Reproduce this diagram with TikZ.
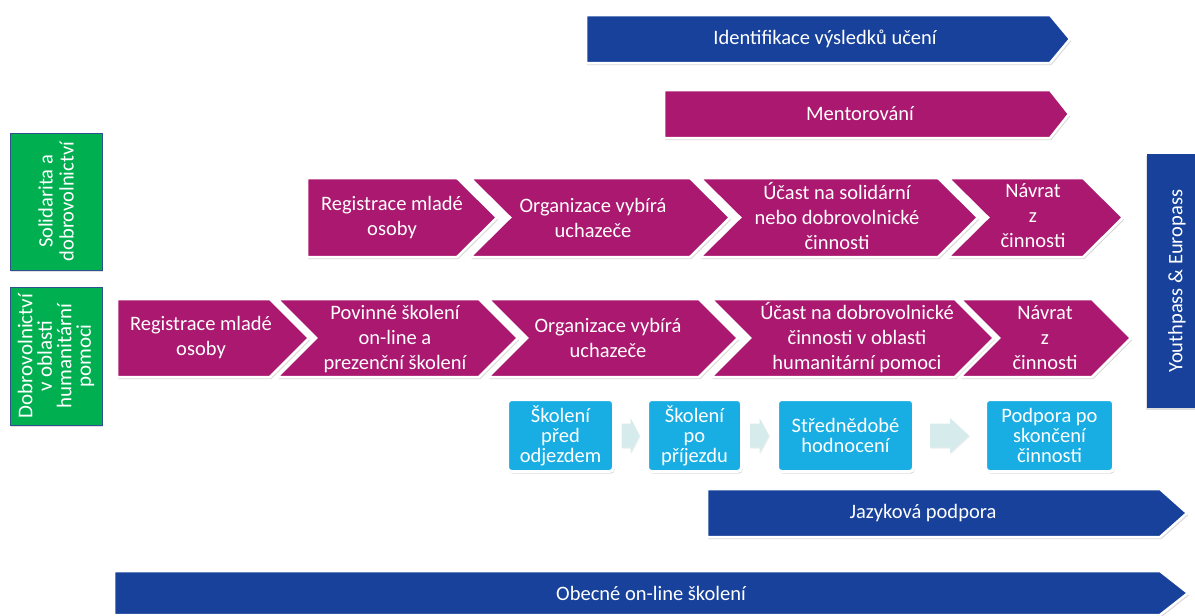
\documentclass[tikz,border=0pt]{standalone}
\usepackage{fontspec}
\setmainfont{Carlito}
\usetikzlibrary{shadows,calc}
\definecolor{cBlue}{HTML}{17419A}
\definecolor{cMag}{HTML}{AA1870}
\definecolor{cGreen}{HTML}{00B050}
\definecolor{cSky}{HTML}{19AEE3}
\definecolor{cPale}{HTML}{D6EBEB}
\definecolor{cEdge}{HTML}{2F528F}
\tikzset{
  shp/.style={draw=white, line width=2.5pt, line join=miter,
    drop shadow={shadow xshift=1.2pt, shadow yshift=-2.2pt, opacity=0.3}},
  txt/.style={text=white, align=center, inner sep=0pt,
    font=\fontsize{20.5}{25}\selectfont},
  greenbox/.style={rectangle, fill=cGreen, draw=cEdge, line width=0.8pt,
    text=white, align=center, inner sep=0pt, rotate=90,
    font=\fontsize{20.5}{21}\selectfont,
    drop shadow={shadow xshift=1pt, shadow yshift=-1.5pt, opacity=0.25}},
  ypbox/.style={rectangle, fill=cBlue, text=white, align=center, inner sep=0pt,
    rotate=90, font=\fontsize{20.5}{25}\selectfont,
    drop shadow={shadow xshift=-1pt, shadow yshift=-1.5pt, opacity=0.25}},
  skybox/.style={rectangle, rounded corners=4pt, fill=cSky, draw=white,
    line width=3pt, text=white, align=center, inner sep=0pt,
    minimum height=72pt, font=\fontsize{20.5}{20}\selectfont,
    drop shadow={shadow xshift=1.2pt, shadow yshift=-2.2pt, opacity=0.3}},
  palearr/.style={fill=cPale,
    drop shadow={shadow xshift=0.8pt, shadow yshift=-1.2pt, opacity=0.15}}
}
% #1 style, #2 x left, #3 x right of body, #4 x tip, #5 y top, #6 y bottom, #7 x of left notch
\newcommand{\chevpath}[7]{\path[#1] (#2,#5) -- (#3,#5) -- (#4,{(#5+#6)/2}) -- (#3,#6) -- (#2,#6) -- (#7,{(#5+#6)/2}) -- cycle;}
% block arrow centred on coordinate #1; #2 half length, #3 head length
\newcommand{\blockarrow}[3]{\path[palearr] ([shift={(-#2,-12)}]#1) -- ([shift={(#2-#3,-12)}]#1) -- ([shift={(#2-#3,-17.5)}]#1) -- ([shift={(#2,0)}]#1) -- ([shift={(#2-#3,17.5)}]#1) -- ([shift={(#2-#3,12)}]#1) -- ([shift={(-#2,12)}]#1) -- cycle;}
\begin{document}
\begin{tikzpicture}[x=1pt,y=-1pt]
\useasboundingbox (0,0) rectangle (1195,616);

% top bars
\chevpath{shp,fill=cBlue}{586}{1050}{1070}{15}{63}{586}
\node[txt] (ident) at (825,39) {Identifikace výsledků učení};
\chevpath{shp,fill=cMag}{664}{1050}{1069}{90}{138}{664}
\node[txt] (mentor) at (860,114) {Mentorování};

% green side labels
\node[greenbox, minimum width=137pt, minimum height=92pt] (solid) at (56,201.5) {Solidarita a\\dobrovolnictví};
\node[greenbox, minimum width=138pt, minimum height=92pt, font=\fontsize{21}{19.5}\selectfont] (human) at (56,356) {Dobrovolnictví\\v oblasti\\humanitární\\pomoci};

% Youthpass
\node[ypbox, minimum width=254pt, minimum height=60pt] (youth) at (1177,281) {Youthpass \& Europass};

% row 1
\chevpath{shp,fill=cMag}{307}{457}{497}{178}{257}{307}
\chevpath{shp,fill=cMag}{470}{690}{730}{178}{257}{510}
\chevpath{shp,fill=cMag}{700}{938}{978}{178}{257}{740}
\chevpath{shp,fill=cMag}{948}{1083}{1123}{178}{257}{988}
\node[txt] (r1a) at (392,217.5) {Registrace mladé\\osoby};
\node[txt] (r1b) at (593,217.5) {Organizace vybírá\\uchazeče};
\node[txt] (r1c) at (837,216) {Účast na solidární\\nebo dobrovolnické\\činnosti};
\node[txt] (r1d) at (1033,216) {Návrat\\z\\činnosti};

% row 2
\chevpath{shp,fill=cMag}{117}{270}{309}{299}{377}{117}
\chevpath{shp,fill=cMag}{277}{479}{518}{299}{377}{316}
\chevpath{shp,fill=cMag}{488}{699}{738}{299}{377}{527}
\chevpath{shp,fill=cMag}{711}{955}{994}{299}{377}{750}
\chevpath{shp,fill=cMag}{960}{1092}{1131}{299}{377}{999}
\node[txt] (r2a) at (201,338) {Registrace mladé\\osoby};
\node[txt] (r2b) at (395,339) {Povinné školení\\on-line a\\prezenční školení};
\node[txt] (r2c) at (608,338) {Organizace vybírá\\uchazeče};
\node[txt] (r2d) at (857,338) {Účast na dobrovolnické\\činnosti v oblasti\\humanitární pomoci};
\node[txt] (r2e) at (1045,338) {Návrat\\z\\činnosti};

% sky-blue training boxes
\node[skybox, minimum width=106pt] (c1) at (560.5,435.5) {Školení\\před\\odjezdem};
\node[skybox, minimum width=94pt] (c2) at (694.5,435.5) {Školení\\po\\příjezdu};
\node[skybox, minimum width=136pt] (c3) at (845.5,435.5) {Střednědobé\\hodnocení};
\node[skybox, minimum width=128pt] (c4) at (1049.5,435.5) {Podpora po\\skončení\\činnosti};
\coordinate (m1) at ($(c1.east)!0.5!(c2.west)$);
\coordinate (m2) at ($(c2.east)!0.5!(c3.west)$);
\coordinate (m3) at ($(c3.east)!0.5!(c4.west)$);
\blockarrow{m1}{9}{9}
\blockarrow{m2}{9.5}{9.5}
\blockarrow{m3}{19.5}{19}

% bottom bars
\chevpath{shp,fill=cBlue}{707}{1160}{1187}{489}{537}{707}
\node[txt] (lang) at (923,513) {Jazyková podpora};
\chevpath{shp,fill=cBlue}{114}{1160}{1188}{571}{615}{114}
\node[txt] (gen) at (651,593) {Obecné on-line školení};
\end{tikzpicture}
\end{document}
